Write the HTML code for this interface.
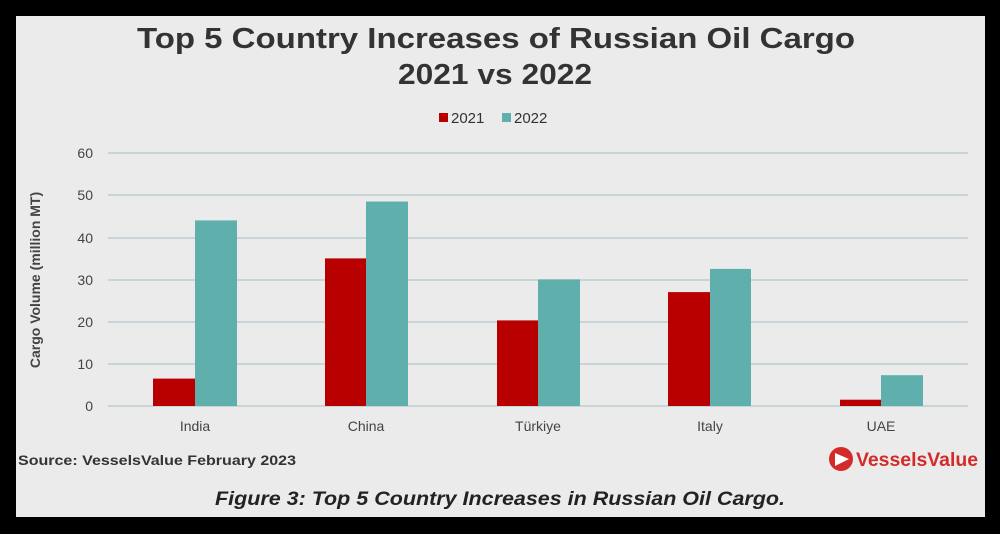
<!DOCTYPE html><html><head><style>
body{margin:0;width:1000px;height:534px;background:#000;overflow:hidden;font-family:"Liberation Sans",sans-serif}
#p{position:absolute;left:16px;top:16px;width:969px;height:501px;background:#ebebeb}
</style></head><body><div id="p"></div>
<svg width="1000" height="534" style="position:absolute;left:0;top:0" font-family="Liberation Sans, sans-serif">
<text x="137" y="48" font-size="29" font-weight="bold" fill="#333" textLength="718" lengthAdjust="spacingAndGlyphs">Top 5 Country Increases of Russian Oil Cargo</text>
<text x="398" y="84" font-size="29" font-weight="bold" fill="#333" textLength="194" lengthAdjust="spacingAndGlyphs">2021 vs 2022</text>
<rect x="439" y="113" width="9" height="9" fill="#b80000"/><text x="451" y="123" font-size="15" fill="#333">2021</text>
<rect x="502" y="113" width="9" height="9" fill="#5fb0ad"/><text x="514" y="123" font-size="15" fill="#333">2022</text>
<g stroke="#c9d4d8" stroke-width="2">
<line x1="108" x2="968" y1="153" y2="153"/><line x1="108" x2="968" y1="195" y2="195"/><line x1="108" x2="968" y1="238" y2="238"/><line x1="108" x2="968" y1="280" y2="280"/><line x1="108" x2="968" y1="322" y2="322"/><line x1="108" x2="968" y1="364" y2="364"/><line x1="108" x2="968" y1="406" y2="406"/></g>
<g font-size="14" fill="#444" text-anchor="end">
<text x="93" y="158">60</text><text x="93" y="200">50</text><text x="93" y="243">40</text><text x="93" y="285">30</text><text x="93" y="327">20</text><text x="93" y="369">10</text><text x="93" y="411">0</text></g>
<text transform="translate(40,280) rotate(-90)" text-anchor="middle" font-size="14" font-weight="bold" fill="#444">Cargo Volume (million MT)</text>
<g fill="#b80000">
<rect x="153" y="378.6" width="42" height="27.4"/><rect x="325" y="258.4" width="41" height="147.6"/><rect x="497" y="320.4" width="41" height="85.6"/><rect x="668" y="292.1" width="42" height="113.9"/><rect x="840" y="399.7" width="41" height="6.3"/></g>
<g fill="#5fb0ad">
<rect x="195" y="220.4" width="42" height="185.6"/><rect x="366" y="201.5" width="42" height="204.5"/><rect x="538" y="279.5" width="42" height="126.5"/><rect x="710" y="268.9" width="41" height="137.1"/><rect x="881" y="375.2" width="42" height="30.8"/></g>
<g font-size="14" fill="#444" text-anchor="middle">
<text x="195" y="431">India</text><text x="366" y="431">China</text><text x="538" y="431">Türkiye</text><text x="710" y="431">Italy</text><text x="881" y="431">UAE</text></g>
<text x="18" y="465" font-size="14" font-weight="bold" fill="#333" textLength="278" lengthAdjust="spacingAndGlyphs">Source: VesselsValue February 2023</text>
<circle cx="841" cy="459" r="12" fill="#d42a2a"/><path d="M835 453 L849 459 L835 466Z" fill="#fff"/>
<text x="856" y="466" font-size="19" font-weight="bold" fill="#d42a2a" textLength="122" lengthAdjust="spacingAndGlyphs">VesselsValue</text>
<text x="215" y="505" font-size="19" font-weight="bold" font-style="italic" fill="#222" textLength="570" lengthAdjust="spacingAndGlyphs">Figure 3: Top 5 Country Increases in Russian Oil Cargo.</text>
</svg></body></html>
